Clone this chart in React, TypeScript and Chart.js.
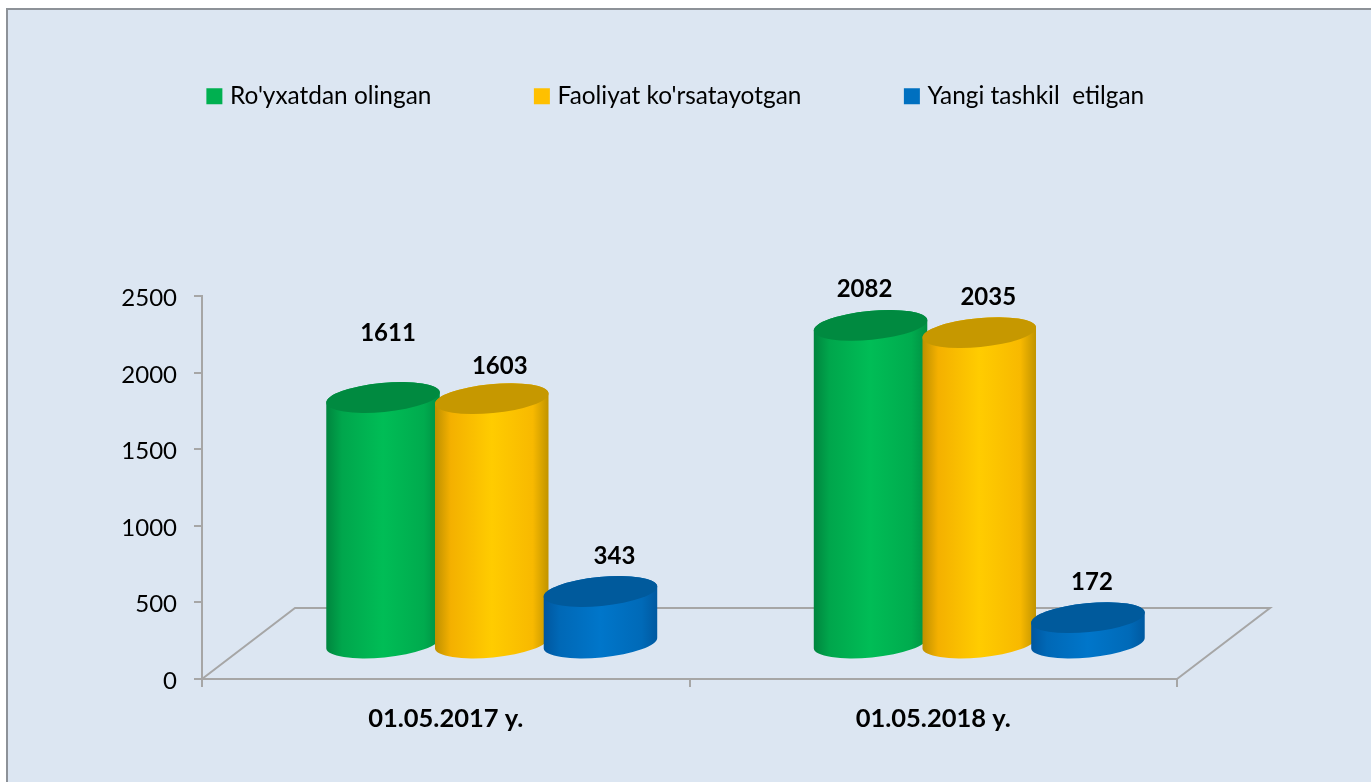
import React, { useEffect, useRef } from "react";
import { Chart, registerables } from "chart.js";

Chart.register(...registerables);

const categories = ["01.05.2017 y.", "01.05.2018 y."];
const seriesNames = ["Ro'yxatdan olingan", "Faoliyat ko'rsatayotgan", "Yangi tashkil  etilgan"];
const registered = [1611, 2082];
const active = [1603, 2035];
const created = [343, 172];
const yTicks = [0, 500, 1000, 1500, 2000, 2500];

const legendColors = ["#00b050", "#ffc000", "#0070c0"];
const bodyStops = [
  ["#00853e", "#00a64c", "#00bd56", "#00ab4e", "#008f42"],
  ["#bd9000", "#f4b000", "#ffcc00", "#f8b900", "#c09300"],
  ["#00569e", "#0068b6", "#0076ca", "#006ab8", "#0059a0"],
];
const capColors = ["#008a40", "#c69800", "#005a9c"];
const GREY = "#a6a6a6";
const DEPTH_X = 93;
const DEPTH_Y = 71;
const LIFT_X = 46;
const LIFT_Y = 35;
const CAP_RY = 14.5;
const TILT = (-5.5 * Math.PI) / 180;
// [dx, dy] of each value label from the top of its cylinder, per series then category
const labelNudge = [
  [[5, -64], [-6, -36]],
  [[8, -32], [9, -35]],
  [[14, -35], [4, -35]],
];

const cylinders = {
  id: "cylinders",
  beforeDatasetsDraw(chart: any) {
    const { ctx, chartArea: a } = chart;
    ctx.save();
    ctx.strokeStyle = GREY;
    ctx.lineWidth = 2;
    ctx.beginPath();
    ctx.moveTo(a.left, a.bottom);
    ctx.lineTo(a.left + DEPTH_X, a.bottom - DEPTH_Y);
    ctx.lineTo(a.right + DEPTH_X, a.bottom - DEPTH_Y);
    ctx.lineTo(a.right, a.bottom);
    ctx.stroke();

    for (let c = 0; c < categories.length; c++) {
      chart.data.datasets.forEach((ds: any, s: number) => {
        const bar: any = chart.getDatasetMeta(s).data[c];
        const cx = bar.x + LIFT_X;
        const top = bar.y - LIFT_Y;
        const base = bar.base - LIFT_Y;
        const rx = bar.width / 2;
        const g = ctx.createLinearGradient(cx - rx, 0, cx + rx, 0);
        [0, 0.14, 0.5, 0.86, 1].forEach((p, i) => g.addColorStop(p, bodyStops[s][i]));
        ctx.fillStyle = g;
        ctx.beginPath();
        ctx.ellipse(cx, base, rx, CAP_RY, TILT, 0, Math.PI);
        ctx.ellipse(cx, top, rx, CAP_RY, TILT, Math.PI, Math.PI * 2);
        ctx.closePath();
        ctx.fill();
        ctx.fillStyle = capColors[s];
        ctx.beginPath();
        ctx.ellipse(cx, top, rx, CAP_RY, TILT, 0, Math.PI * 2);
        ctx.fill();
      });
    }

    ctx.fillStyle = "#000";
    ctx.font = "bold 24px Lato";
    ctx.textAlign = "center";
    ctx.textBaseline = "middle";
    chart.data.datasets.forEach((ds: any, s: number) => {
      ds.data.forEach((v: number, c: number) => {
        const bar: any = chart.getDatasetMeta(s).data[c];
        const [dx, dy] = labelNudge[s][c];
        ctx.fillText(String(v), bar.x + LIFT_X + dx, bar.y - LIFT_Y + dy);
      });
    });
    ctx.restore();
    return false;
  },
};

export default function App() {
  const ref = useRef<HTMLCanvasElement>(null);
  useEffect(() => {
    const values = [registered, active, created];
    const chart = new Chart(ref.current as any, {
      type: "bar",
      data: {
        labels: categories,
        datasets: seriesNames.map((label, i) => ({
          label,
          data: values[i],
          backgroundColor: legendColors[i],
          xAxisID: "x",
          yAxisID: "y",
          categoryPercentage: 0.669,
          barPercentage: 1.049,
        })),
      },
      options: {
        responsive: false,
        animation: false,
        events: [],
        layout: { padding: { top: -23, right: 16, left: 0, bottom: 0 } },
        plugins: {
          title: { display: false },
          tooltip: { enabled: false },
          legend: {
            position: "top",
            labels: {
              color: "#000",
              font: { family: "Lato", size: 24.4 },
              boxWidth: 7,
              boxHeight: 7,
              padding: 107,
              generateLabels: (c: any) =>
                c.data.datasets.map((d: any, i: number) => ({
                  text: d.label,
                  fillStyle: legendColors[i],
                  strokeStyle: legendColors[i],
                  lineWidth: 9,
                  datasetIndex: i,
                  fontColor: "#000",
                })),
            },
          },
        },
        scales: {
          x: {
            position: "bottom",
            offset: true,
            afterFit: (s: any) => { s.height = 103; },
            border: { display: true, color: GREY, width: 2 },
            grid: { display: true, offset: true, drawOnChartArea: false, drawTicks: true, tickLength: 8, color: GREY, lineWidth: 2 },
            ticks: { color: "#000", padding: 16, maxRotation: 0, font: { family: "Lato", size: 25.5, weight: "bold" } },
          },
          y: {
            position: "left",
            min: 0,
            max: 2500,
            afterFit: (s: any) => { s.width = 202; },
            afterBuildTicks: (s: any) => { s.ticks = yTicks.map((value) => ({ value })); },
            border: { display: true, color: GREY, width: 2 },
            grid: { display: true, drawOnChartArea: false, drawTicks: true, tickLength: 8, color: GREY, lineWidth: 2 },
            ticks: { color: "#000", padding: 17, labelOffset: 2, font: { family: "Lato", size: 24 }, callback: (v: any) => String(v) },
          },
          xTop: {
            type: "category",
            position: "top",
            display: true,
            afterFit: (s: any) => { s.height = 178; },
            border: { display: false },
            grid: { display: false },
            ticks: { display: false },
          },
          yRight: {
            type: "linear",
            position: "right",
            display: true,
            afterFit: (s: any) => { s.width = 178; },
            border: { display: false },
            grid: { display: false },
            ticks: { display: false },
          },
        },
      } as any,
      plugins: [cylinders as any],
    });
    return () => chart.destroy();
  }, []);

  return (
    <div style={{ position: "absolute", left: 0, top: 0, width: 1371, height: 782, overflow: "hidden", background: "#fff" }}>
      <div style={{ position: "absolute", left: 6, top: 8, right: 0, bottom: 0, background: "#dce6f2", borderLeft: "2px solid #8d9298", borderTop: "2px solid #8d9298" }} />
      <canvas ref={ref} width={1371} height={782} style={{ position: "absolute", left: 0, top: 0, display: "block" }} />
    </div>
  );
}
